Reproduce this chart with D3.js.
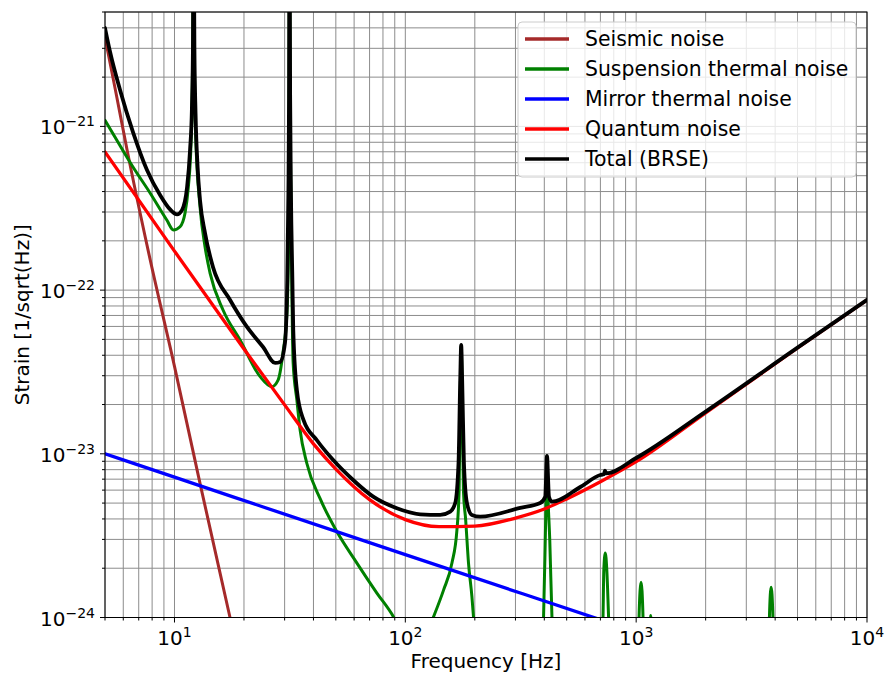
<!DOCTYPE html>
<html lang="en">
  <head>
    <meta charset="utf-8">
    <title>Noise budget</title>
    <script src="https://d3js.org/d3.v7.min.js"></script>
    <style>
      body { margin: 0; background: #fff; }
      svg text { font-family: "DejaVu Sans", sans-serif; fill: #000; }
    </style>
  </head>
  <body>
    <div id="chart"></div>
    <script type="text/javascript">
      // [frequency Hz, strain 1/sqrt(Hz)]
      var seismic = [[5, 3.5e-21], [5.58, 1.6e-21], [6.23, 7.2e-22], [7.68, 1.76e-22], [10, 3.42e-23],
                     [12.9, 6.6e-24], [17.4, 1e-24], [20.2, 3.9e-25]];

      var suspension = [[5, 1.09e-21], [5.62, 8.26e-22], [6.61, 5.65e-22], [7.84, 3.92e-22], [9.26, 2.68e-22],
                        [9.89, 2.33e-22], [10.57, 2.44e-22], [11.11, 2.96e-22], [11.48, 4.26e-22], [11.8, 8e-22],
                        [11.98, 2.5e-21], [12.1, 2e-20], [12.2, 2.5e-21], [12.34, 9.1e-22], [12.9, 3.22e-22],
                        [13.56, 1.84e-22], [14.26, 1.27e-22], [16.23, 7.56e-23], [19.24, 4.95e-23], [23.5, 2.96e-23],
                        [26.4, 2.57e-23], [28.1, 2.82e-23], [29.5, 4.13e-23], [30.7, 7.24e-23], [31.2, 1.83e-22],
                        [31.35, 1.2e-21], [31.5, 2e-20], [31.7, 1.2e-21], [31.95, 3.5e-22], [32.66, 3.59e-23],
                        [33.9, 2.13e-23], [35, 1.4e-23], [37.4, 8.79e-24], [42.8, 5.3e-24], [50.5, 3.35e-24],
                        [61.7, 2.15e-24], [75.3, 1.41e-24], [88.8, 1.01e-24], [95, 8.4e-25], [110, 5.5e-25],
                        [132.5, 1.01e-24], [146.4, 1.47e-24], [159.2, 2.15e-24], [167.3, 3.42e-24], [171, 6e-24],
                        [173.2, 2.6e-23], [174.6, 4.55e-23], [176, 2.6e-23], [178.5, 6e-24], [182.6, 3.94e-24],
                        [187.8, 2.15e-24], [194.3, 1.34e-24], [197.4, 1.01e-24], [206.9, 5.5e-25], [290, 2.5e-25],
                        [388, 5.5e-25], [397, 1e-24], [403.8, 2.97e-24], [407.9, 6.01e-24], [410.8, 9.7e-24],
                        [414.1, 6.01e-24], [422.4, 2.97e-24], [431.8, 1e-24], [441.3, 5.5e-25], [560, 2.5e-25],
                        [699, 4.2e-25], [718.4, 1e-24], [724.2, 1.95e-24], [735.1, 2.48e-24], [746.2, 1.95e-24],
                        [759.7, 1e-24], [780, 4.2e-25], [900, 2.5e-25], [1022, 4.2e-25], [1029, 1e-24],
                        [1050, 1.64e-24], [1071, 1e-24], [1085, 4.2e-25], [1115, 3e-25], [1146, 6e-25],
                        [1157, 1.03e-24], [1169, 6e-25], [2000, 2.5e-25], [3740, 4.2e-25], [3778, 1e-24],
                        [3843, 1.53e-24], [3913, 1e-24], [3952, 4.2e-25], [10000, 2.5e-25]];

      var mirror = [[5, 1e-23], [10, 7.2e-24], [100, 2.42e-24], [1000, 8.2e-25], [10000, 2.76e-25]];

      var quantum = [[5, 6.98e-22], [10, 1.73e-22], [20, 4.37e-23], [30, 1.99e-23], [40, 1.15e-23],
                     [50, 8.07e-24], [70, 5.25e-24], [100, 3.96e-24], [140, 3.59e-24], [200, 3.62e-24],
                     [300, 4.05e-24], [400, 4.6e-24], [500, 5.3e-24], [700, 6.75e-24], [1000, 8.95e-24],
                     [2000, 1.78e-23], [5000, 4.43e-23], [10000, 8.7e-23]];

      var total = [[5, 3.99e-21], [5.26, 2.85e-21], [5.81, 1.67e-21], [6.61, 9.24e-22], [7.6, 5.42e-22],
                   [8.66, 3.81e-22], [9.57, 3.11e-22], [10.26, 2.9e-22], [10.78, 3.08e-22], [11.34, 4.26e-22],
                   [11.68, 7.2e-22], [11.9, 1.3e-21], [12.02, 3e-21], [12.1, 2e-20], [12.2, 3e-21],
                   [12.34, 1.2e-21], [12.6, 5.6e-22], [12.9, 3.55e-22], [13.56, 2.23e-22], [14.69, 1.38e-22],
                   [17.41, 8.7e-23], [20.57, 5.98e-23], [24.2, 4.49e-23], [27.3, 3.59e-23], [28.7, 3.64e-23],
                   [30.1, 4.75e-23], [30.8, 1.15e-22], [31.15, 4e-22], [31.35, 1.5e-21], [31.5, 2e-20],
                   [31.7, 1.5e-21], [31.95, 4e-22], [32.4, 1.2e-22], [32.7, 5.71e-23], [33.9, 2.45e-23],
                   [36.2, 1.61e-23], [41.4, 1.21e-23], [48.7, 9.16e-24], [59.4, 6.92e-24], [72.6, 5.47e-24],
                   [91.9, 4.65e-24], [116, 4.27e-24], [141.6, 4.23e-24], [156.5, 4.43e-24], [164.5, 5e-24],
                   [170, 8.79e-24], [172.9, 2.82e-23], [174.6, 4.62e-23], [176.3, 2.82e-23], [179.4, 8.79e-24],
                   [184.9, 5e-24], [194.3, 4.23e-24], [211, 4.13e-24], [314.6, 4.67e-24], [384, 5e-24],
                   [403.8, 5.47e-24], [410.8, 9.7e-24], [419.1, 5.47e-24], [431.8, 5.1e-24], [572.9, 6.27e-24],
                   [699.3, 7.42e-24], [725, 7.5e-24], [733, 7.9e-24], [741, 7.6e-24], [1000, 9.43e-24],
                   [2000, 1.81e-23], [5000, 4.45e-23], [10000, 8.72e-23]];

      var seriesNames = ["Seismic noise", "Suspension thermal noise", "Mirror thermal noise", "Quantum noise", "Total (BRSE)"];
      var seriesColors = ["#a52a2a", "#008000", "#0000ff", "#ff0000", "#000000"];
      var xMajor = [10, 100, 1000, 10000];
      var xMajorExp = ["1", "2", "3", "4"];
      var yMajor = [1e-24, 1e-23, 1e-22, 1e-21];
      var yMajorExp = ["\u221224", "\u221223", "\u221222", "\u221221"];

      var larguraSVG = 886, alturaSVG = 675;
      var margin = {top: 12, right: 19, bottom: 57.5, left: 105},
          larguraVis = larguraSVG - margin.left - margin.right,
          alturaVis = alturaSVG - margin.top - margin.bottom;

      var svg = d3.select("#chart").append("svg")
                  .attr("width", larguraSVG)
                  .attr("height", alturaSVG);

      var grafico = svg.append("g")
                       .attr("transform", "translate(" + margin.left + "," + margin.top + ")");

      var x = d3.scaleLog().domain([5, 1e4]).range([0, larguraVis]);
      var y = d3.scaleLog().domain([1e-24, 5e-21]).range([alturaVis, 0]);

      // all decades' 1..9 marks inside the domain
      function logMarks(scale) {
        var dom = scale.domain(), marks = [];
        for (var k = Math.floor(Math.log10(dom[0])); k <= Math.ceil(Math.log10(dom[1])); k++) {
          for (var m = 1; m < 10; m++) {
            var v = m * Math.pow(10, k);
            if (v >= dom[0] * 0.9999 && v <= dom[1] * 1.0001) marks.push({v: v, major: m === 1});
          }
        }
        return marks;
      }
      var xMarks = logMarks(x), yMarks = logMarks(y);

      // grid
      grafico.append("g").selectAll("line")
        .data(xMarks).enter().append("line")
          .attr("x1", d => x(d.v)).attr("x2", d => x(d.v))
          .attr("y1", 0).attr("y2", alturaVis)
          .attr("stroke", "#8c8c8c").attr("stroke-width", 1);

      grafico.append("g").selectAll("line")
        .data(yMarks).enter().append("line")
          .attr("y1", d => y(d.v)).attr("y2", d => y(d.v))
          .attr("x1", 0).attr("x2", larguraVis)
          .attr("stroke", "#8c8c8c").attr("stroke-width", 1);

      // curves
      grafico.append("clipPath").attr("id", "area")
        .append("rect").attr("width", larguraVis).attr("height", alturaVis);

      var linha = d3.line()
                    .x(d => x(d[0]))
                    .y(d => y(d[1]))
                    .curve(d3.curveMonotoneX);

      var series = [seismic, suspension, mirror, quantum, total];
      var larguras = [3, 3, 3.3, 3.3, 3.8];

      grafico.append("g").attr("clip-path", "url(#area)")
        .selectAll("path")
        .data(series).enter().append("path")
          .attr("d", linha)
          .attr("fill", "none")
          .attr("stroke", (d, i) => seriesColors[i])
          .attr("stroke-width", (d, i) => larguras[i])
          .attr("stroke-linejoin", "round")
          .attr("stroke-linecap", "round");

      // frame
      grafico.append("rect")
        .attr("width", larguraVis).attr("height", alturaVis)
        .attr("fill", "none").attr("stroke", "#000").attr("stroke-width", 1);

      // ticks
      grafico.append("g").selectAll("line")
        .data(xMarks).enter().append("line")
          .attr("x1", d => x(d.v)).attr("x2", d => x(d.v))
          .attr("y1", alturaVis).attr("y2", d => alturaVis + (d.major ? 5 : 3))
          .attr("stroke", "#000").attr("stroke-width", 1);

      grafico.append("g").selectAll("line")
        .data(yMarks).enter().append("line")
          .attr("y1", d => y(d.v)).attr("y2", d => y(d.v))
          .attr("x1", 0).attr("x2", d => d.major ? -5 : -3)
          .attr("stroke", "#000").attr("stroke-width", 1);

      // tick labels 10^k
      var xLab = grafico.append("g").selectAll("text")
        .data(xMajor).enter().append("text")
          .attr("x", d => x(d))
          .attr("y", alturaVis + 27)
          .attr("text-anchor", "middle")
          .style("font-size", "20px");
      xLab.append("tspan").text("10");
      xLab.append("tspan").attr("dy", -8).style("font-size", "14px").text((d, i) => xMajorExp[i]);

      var yLab = grafico.append("g").selectAll("text")
        .data(yMajor).enter().append("text")
          .attr("x", -10)
          .attr("y", d => y(d) + 8)
          .attr("text-anchor", "end")
          .style("font-size", "20px");
      yLab.append("tspan").text("10");
      yLab.append("tspan").attr("dy", -8).style("font-size", "14px").text((d, i) => yMajorExp[i]);

      // axis titles
      svg.append("text")
        .attr("x", margin.left + larguraVis / 2)
        .attr("y", 668)
        .attr("text-anchor", "middle")
        .style("font-size", "20px")
        .text("Frequency [Hz]");

      svg.append("text")
        .attr("transform", "translate(29," + (margin.top + alturaVis / 2) + ") rotate(-90)")
        .attr("text-anchor", "middle")
        .style("font-size", "20px")
        .text("Strain [1/sqrt(Hz)]");

      // legend
      var legenda = svg.append("g").attr("transform", "translate(518,22)");
      legenda.append("rect")
        .attr("width", 338).attr("height", 155)
        .attr("rx", 4).attr("ry", 4)
        .attr("fill", "#fff").attr("fill-opacity", 0.8)
        .attr("stroke", "#cccccc").attr("stroke-width", 1);

      var itens = legenda.selectAll("g.item")
        .data(seriesNames).enter().append("g")
          .attr("class", "item")
          .attr("transform", (d, i) => "translate(0," + (17 + i * 30) + ")");
      itens.append("line")
        .attr("x1", 7).attr("x2", 51)
        .attr("stroke", (d, i) => seriesColors[i])
        .attr("stroke-width", 3.3);
      itens.append("text")
        .attr("x", 67).attr("y", 7)
        .style("font-size", "20.4px")
        .text(d => d);
    </script>
  </body>
</html>
